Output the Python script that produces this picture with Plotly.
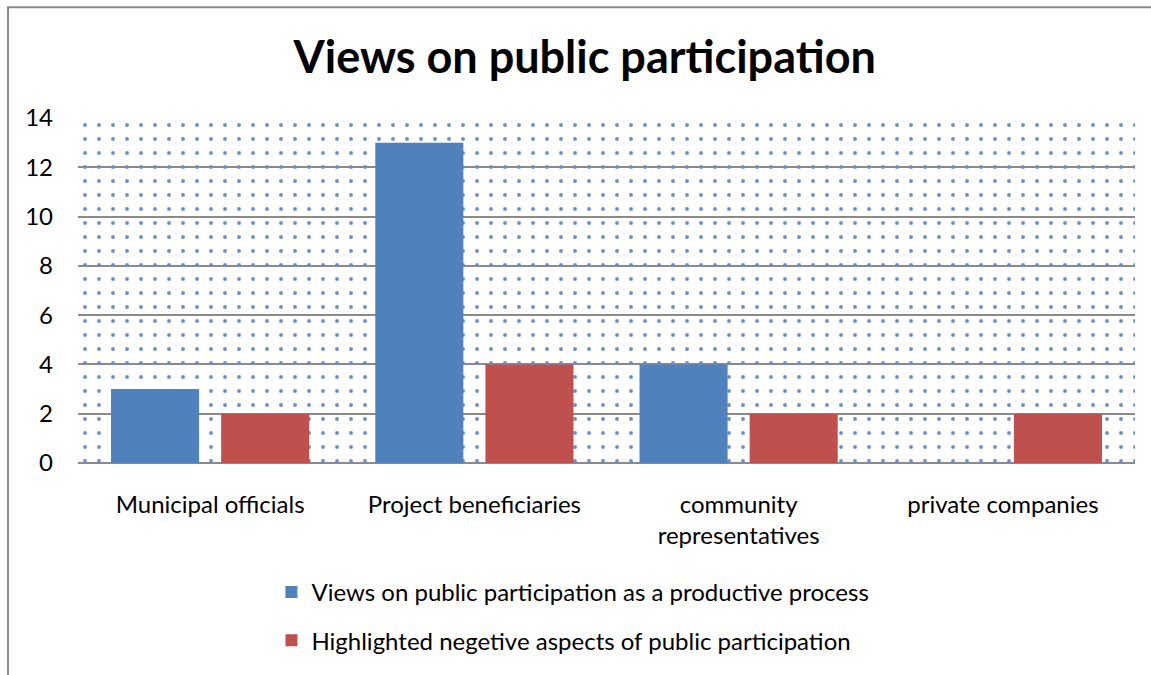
import plotly.graph_objects as go

categories = ["Municipal officials", "Project beneficiaries", "community<br>representatives", "private companies"]
productive = [3, 13, 4, 0]
negative = [2, 4, 2, 2]
series_names = [
    "Views on public participation as a productive process",
    "Highlighted negetive aspects of public participation",
]
y_ticks = [0, 2, 4, 6, 8, 10, 12, 14]
y_max = 14

x_pos = list(range(len(categories)))
FONT = "Lato"

fig = go.Figure()
# textured plot-area background
fig.add_trace(go.Bar(
    x=[(len(categories) - 1) / 2], y=[y_max], width=[len(categories)],
    marker=dict(color="rgba(0,0,0,0)", line=dict(width=0),
                pattern=dict(shape=".", size=14, solidity=0.06,
                             fgcolor="#6890cc", bgcolor="rgba(0,0,0,0)",
                             fillmode="replace")),
    showlegend=False, hoverinfo="skip",
))
fig.add_trace(go.Bar(
    x=x_pos, y=productive, name=series_names[0], legendgroup="a",
    width=1/3, offset=-0.375, marker=dict(color="#4F81BD", line=dict(width=0)),
))
fig.add_trace(go.Bar(
    x=x_pos, y=negative, name=series_names[1], legendgroup="b",
    width=1/3, offset=0.0417, marker=dict(color="#C0504D", line=dict(width=0)),
))

fig.update_layout(
    width=1151, height=675,
    margin=dict(l=78, r=16, t=118, b=205),
    paper_bgcolor="white", plot_bgcolor="white",
    barmode="overlay",
    font=dict(family=FONT, size=24, color="black"),
    title=dict(text="<b>Views on public participation</b>", x=0.508, xanchor="center",
               y=0.915, yanchor="middle", font=dict(family=FONT, size=45, color="black")),
    xaxis=dict(range=[-0.5, len(categories) - 0.5], tickvals=x_pos, ticktext=categories,
               showgrid=False, zeroline=False, showline=False, ticks="",
               ticklabelstandoff=25, tickfont=dict(size=24)),
    yaxis=dict(range=[0, y_max], tickvals=y_ticks, showgrid=True, gridcolor="#8a8a8a",
               gridwidth=1.5, zeroline=True, zerolinecolor="#8a8a8a", zerolinewidth=1.5,
               showline=False, ticks="", ticklabelstandoff=24, tickfont=dict(size=24)),
    legend=dict(x=0.183, xanchor="left", y=-0.31, yanchor="top", orientation="v",
                tracegroupgap=14, font=dict(size=24), bgcolor="rgba(0,0,0,0)"),
    shapes=[dict(type="rect", xref="paper", yref="paper",
                 x0=(8 - 78) / 1057, x1=(1170 - 78) / 1057,
                 y0=(470 - 700) / 352, y1=1 + (118 - 5) / 352,
                 line=dict(color="#888888", width=2), fillcolor="rgba(0,0,0,0)",
                 layer="above")],
)

fig.write_html("out.html")
